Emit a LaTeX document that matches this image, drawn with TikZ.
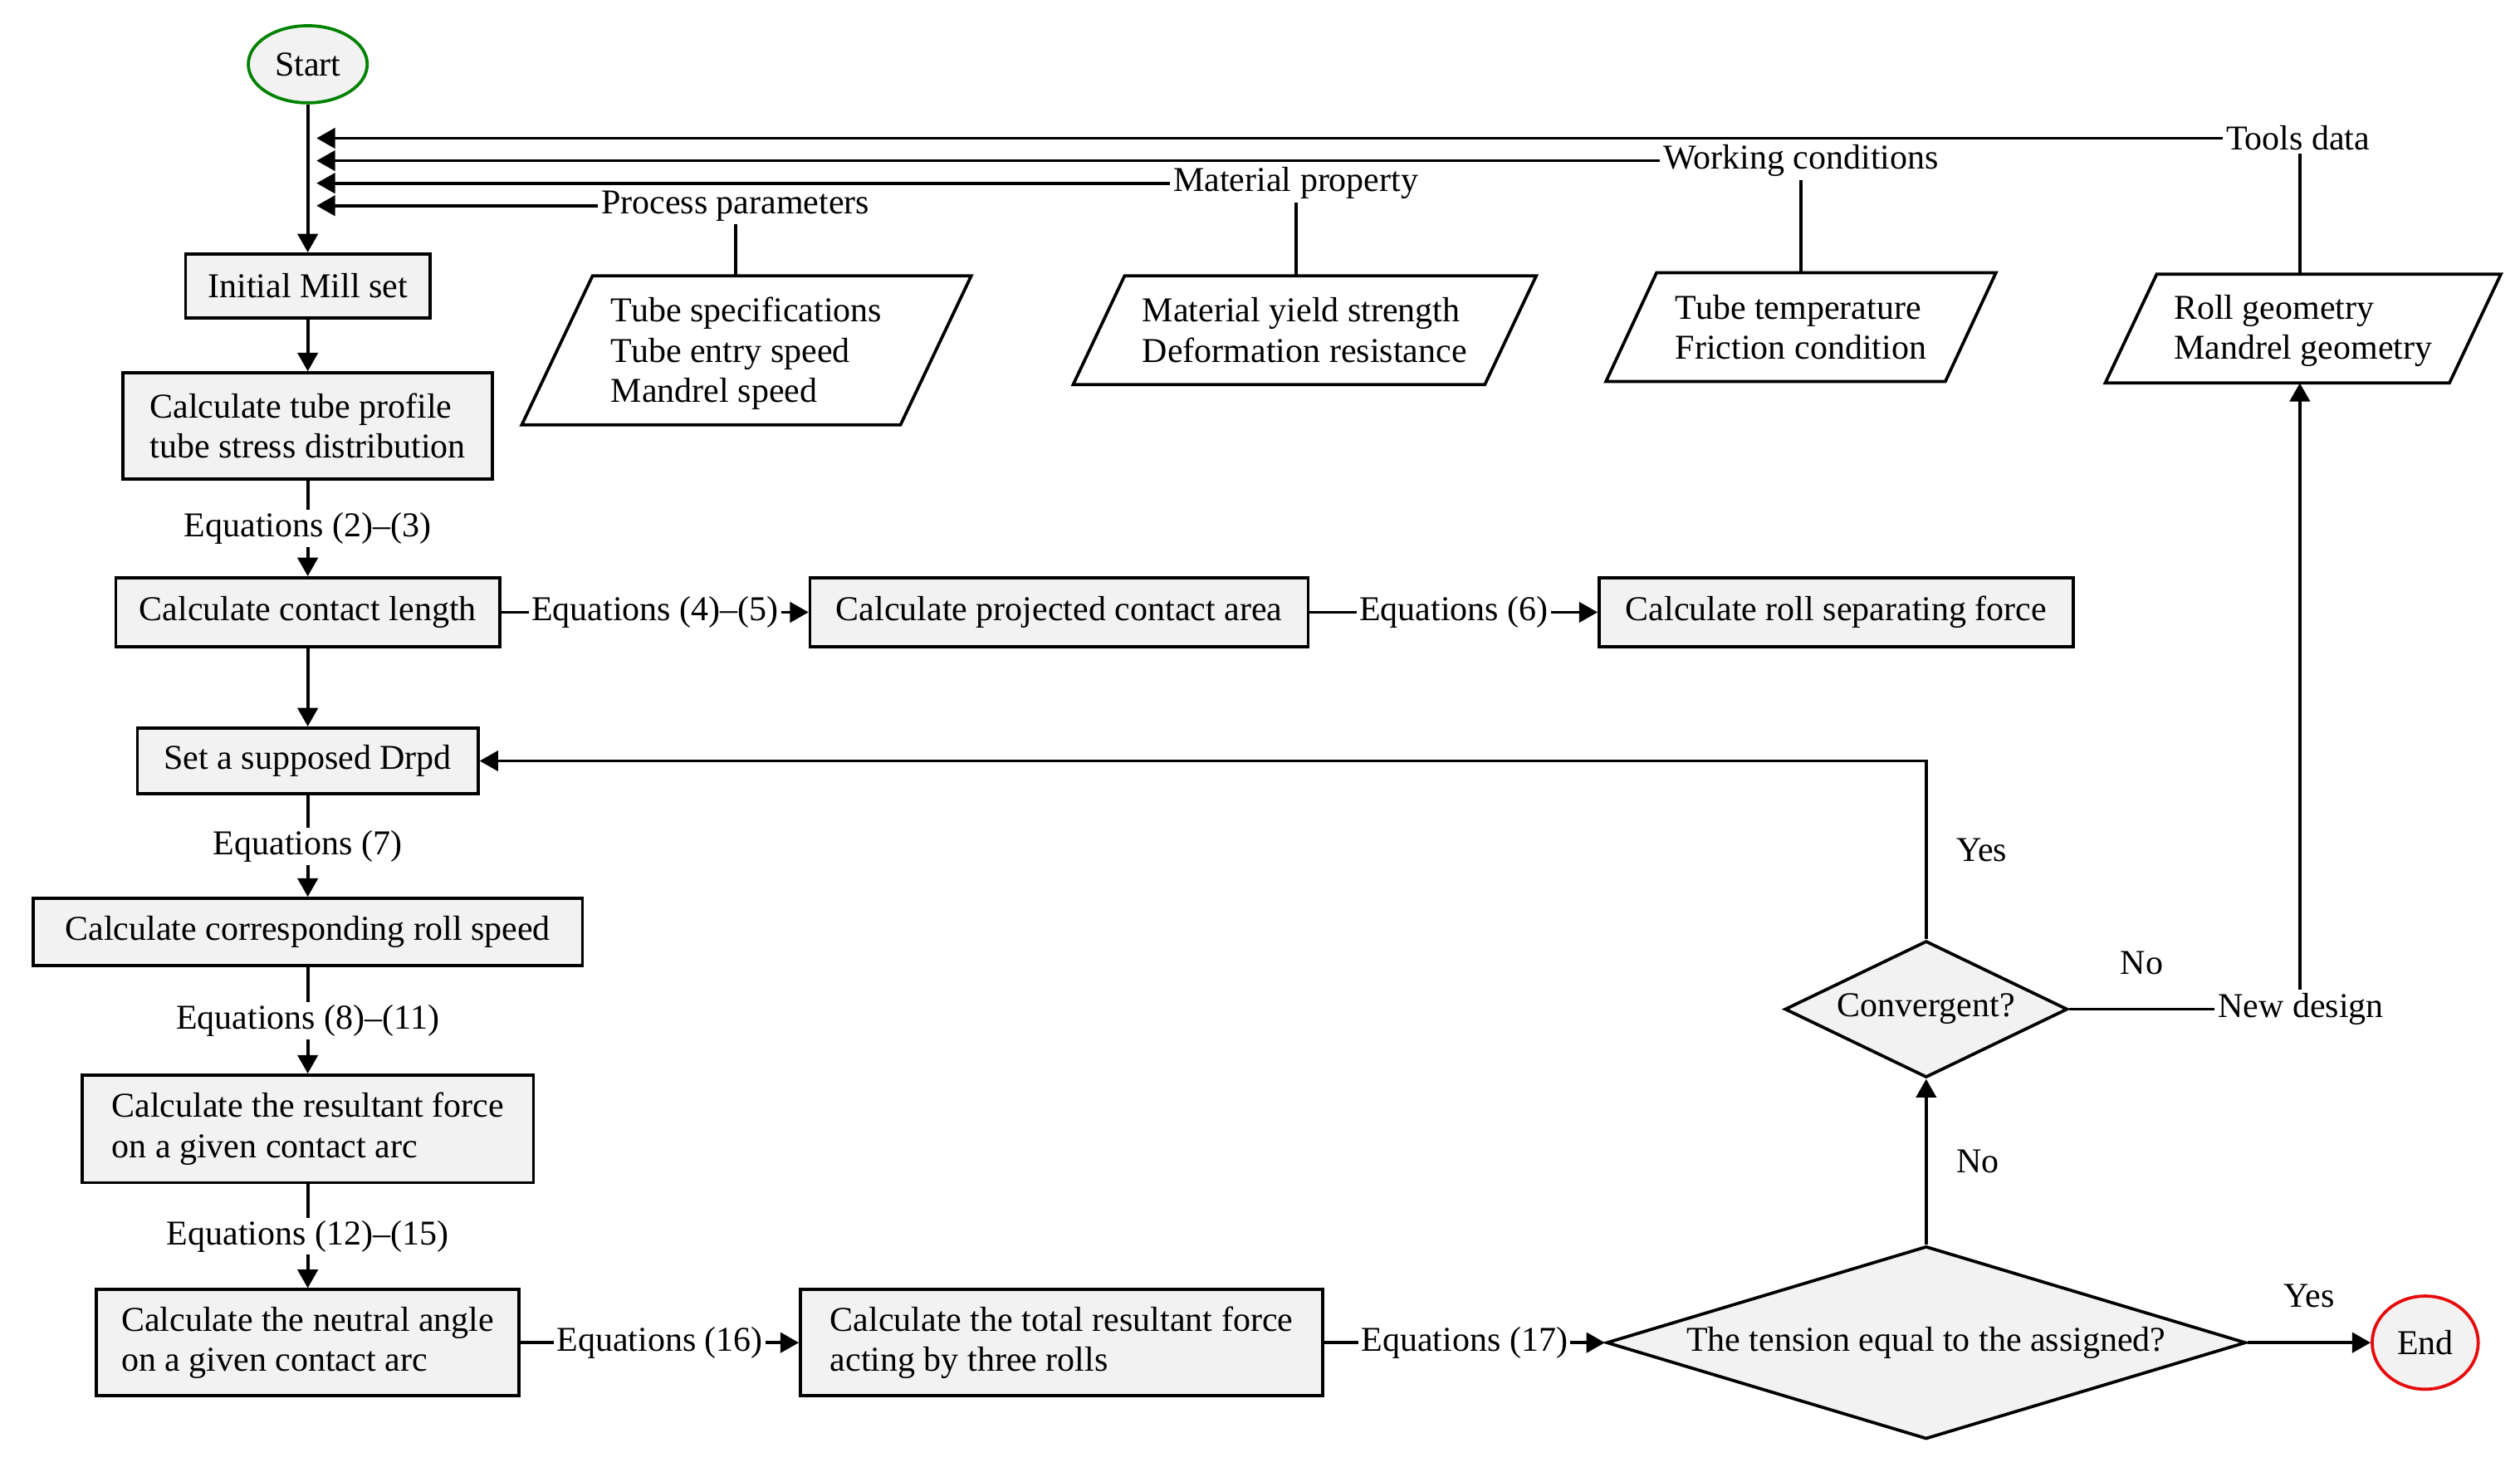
\documentclass[tikz,border=0pt]{standalone}
\usepackage{fontspec}
\setmainfont{Liberation Serif}
\usetikzlibrary{shapes.geometric,arrows.meta,calc}
\definecolor{boxgray}{HTML}{F2F2F2}
\definecolor{startgreen}{RGB}{0,130,0}
\definecolor{endred}{RGB}{230,10,10}
\begin{document}
\begin{tikzpicture}[x=0.02cm,y=-0.02cm,
  every node/.style={font=\fontsize{12.35}{14.2}\selectfont},
  box/.style={draw, line width=1.1pt, fill=boxgray, inner sep=0pt, align=left},
  dia/.style={draw, diamond, line width=1.1pt, fill=boxgray, inner sep=0pt},
  para/.style={inner sep=0pt, align=left},
  lbl/.style={inner sep=1pt, fill=white},
  yn/.style={inner sep=1pt},
  conn/.style={line width=1.1pt},
  arr/.style={line width=1.1pt, -{Triangle[length=0.23cm,width=0.25cm]}},
]
\useasboundingbox (0,0) rectangle (1568,916);

% terminals
\node[draw=startgreen, ellipse, line width=1.1pt, fill=boxgray, inner sep=0pt,
      minimum width=1.48cm, minimum height=0.96cm] (start) at (191.5,40) {Start};
\node[draw=endred, ellipse, line width=1.1pt, fill=boxgray, inner sep=0pt,
      minimum width=1.32cm, minimum height=1.16cm] (end) at (1509,835.5) {End};

% main column
\node[box, minimum width=3.04cm, minimum height=0.8cm] (init) at (191.5,178) {Initial Mill set};
\node[box, minimum width=4.6cm, minimum height=1.32cm] (prof) at (191.5,265) {Calculate tube profile\\tube stress distribution};
\node[box, minimum width=4.78cm, minimum height=0.86cm] (clen) at (191.5,381) {Calculate contact length};
\node[box, minimum width=6.2cm, minimum height=0.86cm] (parea) at (659,381) {Calculate projected contact area};
\node[box, minimum width=5.9cm, minimum height=0.86cm] (rsf) at (1142.5,381) {Calculate roll separating force};
\node[box, minimum width=4.24cm, minimum height=0.82cm] (drpd) at (191.5,473.5) {Set a supposed Drpd};
\node[box, minimum width=6.84cm, minimum height=0.84cm] (rspeed) at (191.5,580) {Calculate corresponding roll speed};
\node[box, minimum width=5.62cm, minimum height=1.34cm] (rforce) at (191.5,702.5) {Calculate the resultant force\\on a given contact arc};
\node[box, minimum width=5.26cm, minimum height=1.32cm] (nangle) at (191.5,835.5) {Calculate the neutral angle\\on a given contact arc};
\node[box, minimum width=6.5cm, minimum height=1.32cm] (total) at (660.5,835.5) {Calculate the total resultant force\\acting by three rolls};
\node[dia, shape aspect=3.317, minimum width=7.96cm, minimum height=2.4cm] (tension) at (1198.5,835.5) {The tension equal to the assigned?};
\node[dia, shape aspect=2.07, minimum width=3.52cm, minimum height=1.7cm] (conv) at (1198.5,628) {Convergent?};
\node[lbl, anchor=west] (nd) at (1378,628) {New design};

% data parallelograms (outline drawn around invisible text nodes)
\node[para, minimum width=5.58cm, minimum height=1.84cm] (ts) at (464.5,218) {};
\node[para] at (464.5,220) {Tube specifications\\Tube entry speed\\Mandrel speed};
\node[para, minimum width=5.75cm, minimum height=1.34cm] (ms) at (811.8,205.5) {Material yield strength\\Deformation resistance};
\node[para, minimum width=4.84cm, minimum height=1.34cm] (wc) at (1120.6,203.5) {Tube temperature\\Friction condition};
\node[para, minimum width=4.91cm, minimum height=1.34cm] (tl) at (1433,204.5) {};
\node[para] at (1433,206) {Roll geometry\\Mandrel geometry};
\draw[conn] ($(ts.north west)+(44,0)$) -- (ts.north east) -- ($(ts.south east)-(44,0)$) -- (ts.south west) -- cycle;
\draw[conn] ($(ms.north west)+(32,0)$) -- (ms.north east) -- ($(ms.south east)-(32,0)$) -- (ms.south west) -- cycle;
\draw[conn] ($(wc.north west)+(31.5,0)$) -- (wc.north east) -- ($(wc.south east)-(31.5,0)$) -- (wc.south west) -- cycle;
\draw[conn] ($(tl.north west)+(32,0)$) -- (tl.north east) -- ($(tl.south east)-(32,0)$) -- (tl.south west) -- cycle;

% data labels
\node[lbl, anchor=west] (pp) at (372,128) {Process parameters};
\node[lbl, anchor=west] (mp) at (728,114) {Material property};
\node[lbl, anchor=west] (wk) at (1033,100) {Working conditions};
\node[lbl, anchor=west] (td) at (1383,86) {Tools data};
\coordinate (tipx) at (197,0);
\coordinate (toolsx) at (1431,0);
\draw[arr] (pp.west) -- (pp.west -| tipx);
\draw[arr] (mp.west) -- (mp.west -| tipx);
\draw[arr] (wk.west) -- (wk.west -| tipx);
\draw[arr] (td.west) -- (td.west -| tipx);
\draw[conn] (pp.south) -- (pp.south |- ts.north);
\draw[conn] (mp.south) -- (mp.south |- ms.north);
\draw[conn] (wk.south) -- (wk.south |- wc.north);
\draw[conn] (td.south -| toolsx) -- (tl.north -| toolsx);

% main flow
\draw[arr] (start) -- (init);
\draw[arr] (init) -- (prof);
\draw[arr] (prof) -- node[lbl]{Equations (2)–(3)} (clen);
\draw[arr] (clen) -- node[lbl]{Equations (4)–(5)} (parea);
\draw[arr] (parea) -- node[lbl]{Equations (6)} (rsf);
\draw[arr] (clen) -- (drpd);
\draw[arr] (drpd) -- node[lbl]{Equations (7)} (rspeed);
\draw[arr] (rspeed) -- node[lbl]{Equations (8)–(11)} (rforce);
\draw[arr] (rforce) -- node[lbl]{Equations (12)–(15)} (nangle);
\draw[arr] (nangle) -- node[lbl]{Equations (16)} (total);
\draw[arr] (total) -- node[lbl]{Equations (17)} (tension.west);
\draw[arr] (tension.east) -- node[yn, above=0.38cm]{Yes} (end.west);
\draw[arr] (tension.north) -- node[yn, right=0.32cm]{No} (conv.south);
\draw[arr] (conv.north) -- node[yn, right=0.32cm]{Yes} (conv.north |- drpd.east) -- (drpd.east);
\draw[conn] (conv.east) -- node[yn, above=0.38cm]{No} (nd.west);
\draw[arr] (nd.north -| toolsx) -- (tl.south -| toolsx);
\end{tikzpicture}
\end{document}
